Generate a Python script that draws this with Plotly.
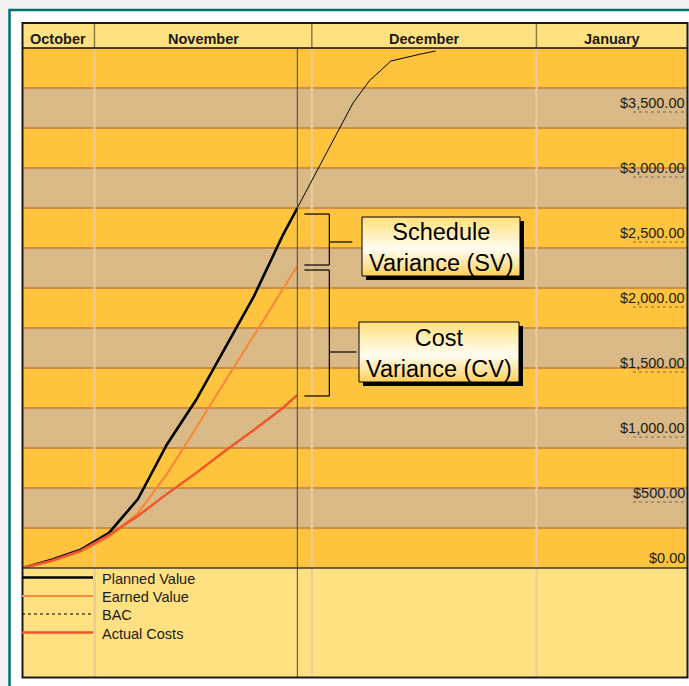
import plotly.graph_objects as go
import pandas as pd

W, H = 689, 686

# ---------------- data ----------------
status_date = "2023-11-29"
progress_dates = ["2023-10-22", "2023-10-26", "2023-10-30", "2023-11-03", "2023-11-07",
                  "2023-11-11", "2023-11-15", "2023-11-19", "2023-11-23", "2023-11-27",
                  "2023-11-29"]
planned_value = [0, 62, 138, 270, 530, 950, 1290, 1690, 2090, 2560, 2769]
earned_value = [0, 54, 123, 238, 423, 723, 1077, 1431, 1785, 2138, 2323]
actual_costs = [0, 54, 131, 254, 400, 570, 730, 900, 1062, 1231, 1331]
bac_dates = ["2023-11-29", "2023-12-06 16:00", "2023-12-08 22:00", "2023-12-11 22:00",
             "2023-12-15 22:00", "2023-12-18 02:00"]
bac_values = [2769, 3575, 3746, 3900, 3952, 3977]

month_names = ["October", "November", "December", "January"]
month_starts = ["2023-10-22", "2023-11-01", "2023-12-01", "2024-01-01"]
x_range = ["2023-10-22", "2024-01-21 22:00"]
y_ticks = [0, 500, 1000, 1500, 2000, 2500, 3000, 3500]
y_max = 4000
n_bands = 13

legend_names = ["Planned Value", "Earned Value", "BAC", "Actual Costs"]
box_texts = ["Schedule<br>Variance (SV)", "Cost<br>Variance (CV)"]

# ---------------- styles ----------------
FONT = "Liberation Sans, Arial, sans-serif"
C_PV = "#000000"
C_EV = "#F7893A"
C_AC = "#F0552A"
C_ORANGE = "#FFC43D"
C_TAN = "#D9B986"
C_LIGHT = "#FFE182"
C_BANDLINE = "#C47C3C"
C_GRIDV = "#E9CD98"


def px(x):
    return x / W


def py(y):
    return 1 - y / H


PLOT_TOP, PLOT_BOTTOM = 48, 568
dollars_per_px = y_max / (PLOT_BOTTOM - PLOT_TOP)

fig = go.Figure()

fig.add_trace(go.Scatter(x=progress_dates + bac_dates[1:], y=planned_value + bac_values[1:],
                         mode="lines", line=dict(color="black", width=1), name="BAC",
                         showlegend=False, hoverinfo="skip"))
fig.add_trace(go.Scatter(x=progress_dates, y=planned_value, mode="lines",
                         line=dict(color=C_PV, width=2.6), name="Planned Value", showlegend=False))
fig.add_trace(go.Scatter(x=progress_dates, y=earned_value, mode="lines",
                         line=dict(color=C_EV, width=2.2), name="Earned Value", showlegend=False))
fig.add_trace(go.Scatter(x=progress_dates, y=actual_costs, mode="lines",
                         line=dict(color=C_AC, width=2.4), name="Actual Costs", showlegend=False))

shapes = []
annotations = []

# page background and teal frame
shapes.append(dict(type="rect", xref="paper", yref="paper", x0=px(9.5), x1=px(720),
                   y0=py(720), y1=py(10), fillcolor="white",
                   line=dict(color="#00736E", width=2.5), layer="below"))

# header and legend areas
shapes.append(dict(type="rect", xref="paper", yref="paper", x0=px(22), x1=px(688),
                   y0=py(48), y1=py(23), fillcolor=C_LIGHT, line_width=0, layer="below"))
shapes.append(dict(type="rect", xref="paper", yref="paper", x0=px(22), x1=px(688),
                   y0=py(678), y1=py(568), fillcolor=C_LIGHT, line_width=0, layer="below"))

# bands
band_h = y_max / n_bands
for i in range(n_bands):
    shapes.append(dict(type="rect", xref="paper", yref="y", x0=px(22), x1=px(688),
                       y0=i * band_h, y1=(i + 1) * band_h,
                       fillcolor=C_ORANGE if i % 2 == 0 else C_TAN, line_width=0, layer="below"))
for i in range(1, n_bands):
    shapes.append(dict(type="line", xref="paper", yref="y", x0=px(22), x1=px(688),
                       y0=i * band_h, y1=i * band_h,
                       line=dict(color=C_BANDLINE, width=1.3), layer="below"))

# month gridlines and header cells
for i, (name, start) in enumerate(zip(month_names, month_starts)):
    end = month_starts[i + 1] if i + 1 < len(month_starts) else x_range[1]
    if i > 0:
        shapes.append(dict(type="line", xref="x", yref="paper", x0=start, x1=start,
                           y0=py(677), y1=py(48), line=dict(color=C_GRIDV, width=2),
                           layer="below"))
        shapes.append(dict(type="line", xref="x", yref="paper", x0=start, x1=start,
                           y0=py(48), y1=py(23), line=dict(color="#8A7A4A", width=1.5)))
    mid = pd.Timestamp(start) + (pd.Timestamp(end) - pd.Timestamp(start)) / 2
    annotations.append(dict(x=mid.strftime("%Y-%m-%d %H:%M"), xref="x", yref="paper",
                            y=py(38.5), xanchor="center", yanchor="middle",
                            text="<b>%s</b>" % name, showarrow=False,
                            font=dict(family=FONT, size=14.5, color="#1A1A1A")))

# status date line
shapes.append(dict(type="line", xref="x", yref="paper", x0=status_date, x1=status_date,
                   y0=py(678), y1=py(48), line=dict(color="#24506A", width=1)))

# separators and border
shapes.append(dict(type="line", xref="paper", yref="paper", x0=px(22), x1=px(688),
                   y0=py(48), y1=py(48), line=dict(color="#111111", width=1.6)))
shapes.append(dict(type="line", xref="paper", yref="paper", x0=px(22), x1=px(688),
                   y0=py(568), y1=py(568), line=dict(color="#3A3A3A", width=1.6)))
shapes.append(dict(type="rect", xref="paper", yref="paper", x0=px(22.5), x1=px(687.5),
                   y0=py(677.5), y1=py(23), line=dict(color="#1A1A1A", width=2)))

# y labels with dotted underlines
for v in y_ticks:
    annotations.append(dict(xref="paper", yref="y", x=px(686.5), y=v, xanchor="right",
                            yanchor="bottom", yshift=0, text="${:,.2f}".format(v),
                            showarrow=False, font=dict(family=FONT, size=14.5, color="#1A1A1A")))
    if v > 0:
        shapes.append(dict(type="line", xref="paper", yref="y", x0=px(633), x1=px(686),
                           ysizemode="pixel", yanchor=v, y0=1, y1=1,
                           line=dict(color="#6A6A6A", width=1, dash="dot")))

# variance brackets
pv_end, ev_end, ac_end = planned_value[-1], earned_value[-1], actual_costs[-1]
brackets = [(pv_end - 6 * dollars_per_px, ev_end + 1 * dollars_per_px),
            (ev_end - 4 * dollars_per_px, ac_end - 1 * dollars_per_px)]
for top, bot in brackets:
    for yy in (top, bot):
        shapes.append(dict(type="line", xref="x", yref="y", xsizemode="pixel",
                           xanchor=status_date, x0=7, x1=32, y0=yy, y1=yy,
                           line=dict(color="black", width=1.2)))
    shapes.append(dict(type="line", xref="x", yref="y", xsizemode="pixel",
                       xanchor=status_date, x0=32, x1=32, y0=top, y1=bot,
                       line=dict(color="black", width=1.2)))

# callout boxes
boxes = [(362, 217, 520, 276, 242, 55), (359, 322, 519, 382, 352, 59)]
stops = [(0.0, (255, 224, 122)), (0.55, (255, 253, 242)), (1.0, (255, 208, 88))]


def grad(t):
    for (t0, c0), (t1, c1) in zip(stops[:-1], stops[1:]):
        if t <= t1:
            f = (t - t0) / (t1 - t0)
            return "rgb(%d,%d,%d)" % tuple(round(a + (b - a) * f) for a, b in zip(c0, c1))
    return "rgb(%d,%d,%d)" % stops[-1][1]


for (x0, y0, x1, y1, ty, tx1), txt in zip(boxes, box_texts):
    shapes.append(dict(type="line", xref="x", yref="paper", xsizemode="pixel",
                       xanchor=status_date, x0=32, x1=tx1, y0=py(ty), y1=py(ty),
                       line=dict(color="black", width=1.2)))
    shapes.append(dict(type="rect", xref="paper", yref="paper", x0=px(x0 + 4), x1=px(x1 + 4),
                       y0=py(y1 + 4), y1=py(y0 + 4), fillcolor="black", line_width=0))
    n = 30
    for k in range(n):
        ya = y0 + (y1 - y0) * k / n
        yb = y0 + (y1 - y0) * (k + 1) / n
        shapes.append(dict(type="rect", xref="paper", yref="paper", x0=px(x0), x1=px(x1),
                           y0=py(min(yb + 1.5, y1)), y1=py(ya), fillcolor=grad((k + 0.5) / n),
                           line_width=0))
    shapes.append(dict(type="rect", xref="paper", yref="paper", x0=px(x0), x1=px(x1),
                       y0=py(y1), y1=py(y0), line=dict(color="black", width=1)))
    annotations.append(dict(xref="paper", yref="paper", x=px((x0 + x1) / 2),
                            y=py((y0 + y1) / 2 + 1), xanchor="center", yanchor="middle",
                            text=txt, showarrow=False,
                            font=dict(family=FONT, size=23.5, color="black")))

# custom legend
legend_styles = [dict(color=C_PV, width=2.6), dict(color=C_EV, width=2.2),
                 dict(color="black", width=1, dash="dot"), dict(color=C_AC, width=2.6)]
legend_rows = [577.5, 596, 614, 632.5]
for name, st, ry in zip(legend_names, legend_styles, legend_rows):
    shapes.append(dict(type="line", xref="paper", yref="paper", x0=px(22), x1=px(93),
                       y0=py(ry), y1=py(ry), line=st))
    annotations.append(dict(xref="paper", yref="paper", x=px(100), y=py(ry + 1),
                            xanchor="left", yanchor="middle", text=name, showarrow=False,
                            font=dict(family=FONT, size=14.5, color="#1A1A1A")))
# legend column divider
shapes.append(dict(type="line", xref="paper", yref="paper", x0=px(95), x1=px(95),
                   y0=py(677), y1=py(568), line=dict(color=C_GRIDV, width=2), layer="below"))

fig.update_layout(
    width=W, height=H, margin=dict(l=0, r=0, t=0, b=0),
    paper_bgcolor="#F2F2F2", plot_bgcolor="rgba(0,0,0,0)",
    showlegend=False,
    xaxis=dict(type="date", domain=[px(22), px(688)], range=x_range, showgrid=False,
               zeroline=False, showticklabels=False, ticks="", showline=False, fixedrange=True),
    yaxis=dict(domain=[py(568), py(48)], range=[0, y_max], showgrid=False, zeroline=False,
               showticklabels=False, ticks="", showline=False, fixedrange=True),
    shapes=shapes, annotations=annotations,
    font=dict(family=FONT),
)

fig.write_html("out.html")
